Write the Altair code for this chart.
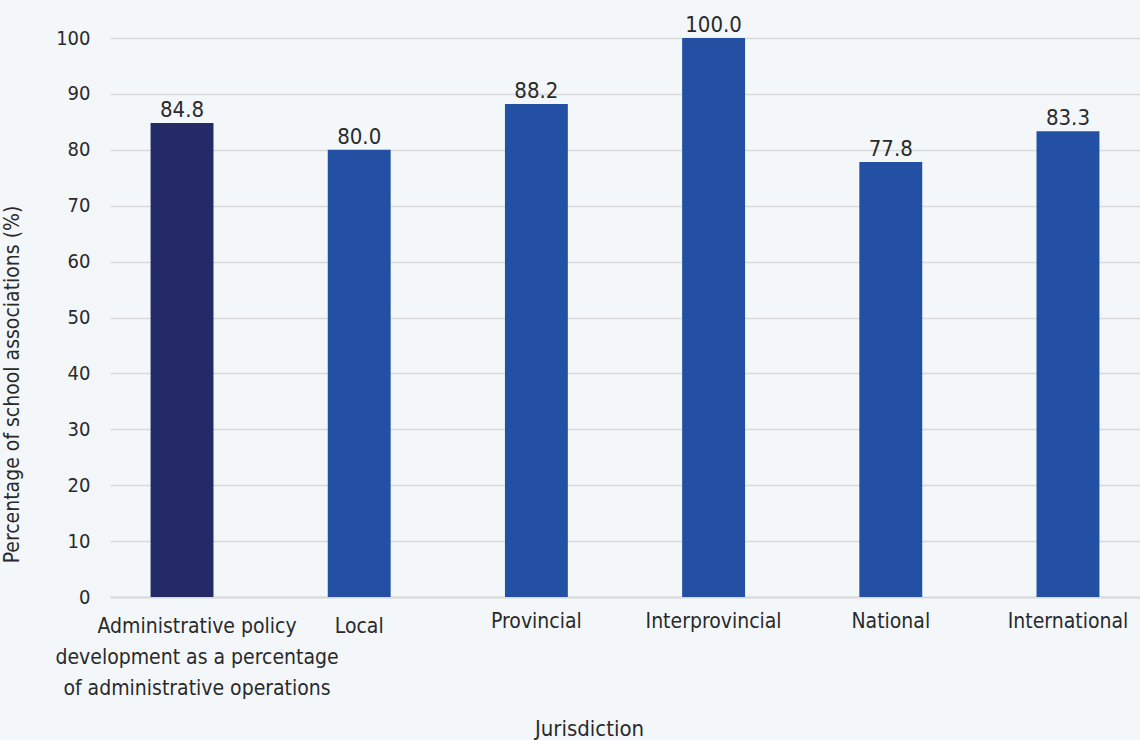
import altair as alt
import pandas as pd

categories = [
    "Administrative policy development as a percentage of administrative operations",
    "Local", "Provincial", "Interprovincial", "National", "International",
]
first_label_lines = ["Administrative policy", "development as a percentage", "of administrative operations"]
values = [84.8, 80.0, 88.2, 100.0, 77.8, 83.3]
groups = ["policy", "jurisdiction", "jurisdiction", "jurisdiction", "jurisdiction", "jurisdiction"]

df = pd.DataFrame({"cat": categories, "value": values, "group": groups,
                   "label": [f"{v:.1f}" for v in values]})

FONT = "DejaVu Sans Condensed, Liberation Sans Narrow, sans-serif"
TEXT = "#2a2a2a"

first_test = "datum.value == '" + categories[0] + "'"
label_expr = (
    first_test + " ? ['" + "', '".join(first_label_lines) + "'] : datum.value"
)

x = alt.X(
    "cat:N", sort=categories,
    scale=alt.Scale(paddingInner=0.645, paddingOuter=0.229),
    axis=alt.Axis(
        title="Jurisdiction", titleFont=FONT, titleFontSize=22, titleFontWeight="normal",
        titleColor=TEXT, titleX=479, titleY=138, titleBaseline="alphabetic",
        labelFont=FONT, labelFontSize=21, labelColor=TEXT, labelAngle=0,
        labelExpr=label_expr, labelLineHeight=31, labelLimit=400,
        labelPadding={"condition": {"test": "datum.value == 'Local' || " + first_test, "value": 18},
                      "value": 13},
        labelOffset={"condition": {"test": first_test, "value": 15}, "value": 0},
        ticks=False, domain=True, domainColor="#d9d9d9", domainWidth=2,
        labelBaseline="top",
    ),
)

y = alt.Y(
    "value:Q", scale=alt.Scale(domain=[0, 100]),
    axis=alt.Axis(
        values=list(range(0, 101, 10)),
        title="Percentage of school associations (%)", titleFont=FONT, titleFontSize=21,
        titleFontWeight="normal", titleColor=TEXT, titleX=-88, titleY=346,
        labelFont=FONT, labelFontSize=20, labelColor=TEXT, labelPadding=20,
        ticks=False, domain=False, gridColor="#d9d9d9", gridWidth=1.5,
    ),
)

bars = alt.Chart(df).mark_bar().encode(
    x=x, y=y,
    color=alt.Color("group:N", scale=alt.Scale(domain=["policy", "jurisdiction"],
                                               range=["#232a66", "#2450a4"]), legend=None),
)

labels = alt.Chart(df).mark_text(
    baseline="alphabetic", dy=-6, font=FONT, fontSize=22, color=TEXT
).encode(x=alt.X("cat:N", sort=categories), y="value:Q", text="label:N")

chart = alt.layer(bars, labels).properties(
    width=1030, height=559,
    autosize=alt.AutoSizeParams(type="none"),
    padding={"left": 110, "top": 38, "right": 0, "bottom": 143},
    background="#f3f7fa",
).configure_view(stroke=None)

chart.save("out.html", embed_options={"renderer": "svg", "actions": False})
